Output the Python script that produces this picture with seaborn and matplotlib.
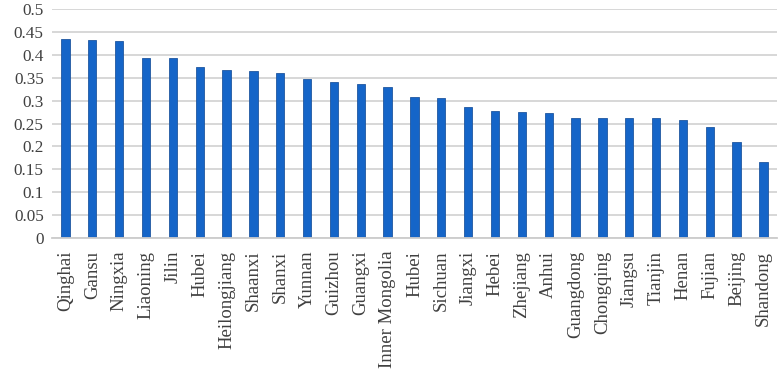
import pandas as pd
import numpy as np
import matplotlib
matplotlib.use("Agg")
import matplotlib.pyplot as plt
import seaborn as sns

provinces = ["Qinghai", "Gansu", "Ningxia", "Liaoning", "Jilin", "Hubei",
             "Heilongjiang", "Shaanxi", "Shanxi", "Yunnan", "Guizhou", "Guangxi",
             "Inner Mongolia", "Hubei ", "Sichuan", "Jiangxi", "Hebei", "Zhejiang",
             "Anhui", "Guangdong", "Chongqing", "Jiangsu", "Tianjin", "Henan",
             "Fujian", "Beijing", "Shandong"]
values = [0.435, 0.431, 0.429, 0.393, 0.393, 0.374,
          0.366, 0.365, 0.360, 0.346, 0.340, 0.337,
          0.330, 0.308, 0.305, 0.287, 0.278, 0.276,
          0.273, 0.263, 0.261, 0.261, 0.261, 0.258,
          0.243, 0.210, 0.166]
y_ticks = [0, 0.05, 0.1, 0.15, 0.2, 0.25, 0.3, 0.35, 0.4, 0.45, 0.5]
y_tick_labels = ["0", "0.05", "0.1", "0.15", "0.2", "0.25", "0.3", "0.35", "0.4", "0.45", "0.5"]

df = pd.DataFrame({"Province": provinces, "Value": values})

sns.set_style("white")
plt.rcParams["font.family"] = "Liberation Serif"
font = "Liberation Serif"

fig = plt.figure(figsize=(7.82, 3.74), dpi=100)
ax = fig.add_axes([0.0665, 0.3628, 0.927, 0.6139])

sns.barplot(data=df, x="Province", y="Value", color="#1565c8",
            saturation=1, width=0.31, edgecolor="#1f57a0", linewidth=0.6, ax=ax)

ax.set_ylim(0, 0.5)
ax.set_xlim(-0.5, len(provinces) - 0.5)
ax.set_yticks(y_ticks)
ax.set_yticklabels(y_tick_labels, fontsize=12.3, color="#404040", family=font)
ax.set_xticks(range(len(provinces)))
ax.set_xticklabels([p.strip() for p in provinces], rotation=90, fontsize=13.5,
                   color="#404040", family=font)
ax.tick_params(axis="x", length=0, pad=9)
ax.tick_params(axis="y", length=0, pad=6)
ax.yaxis.grid(True, color="#d4d4d4", linewidth=1.3)
ax.set_axisbelow(True)
for s in ["top", "right", "left"]:
    ax.spines[s].set_visible(False)
ax.spines["bottom"].set_color("#cccccc")
ax.spines["bottom"].set_linewidth(1.3)
ax.set_xlabel("")
ax.set_ylabel("")

fig.savefig("out.png", dpi=100)
